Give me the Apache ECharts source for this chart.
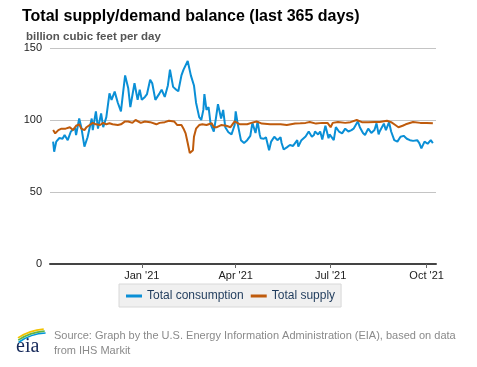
<!DOCTYPE html>
<html>
<head>
<meta charset="utf-8">
<script src="https://cdn.jsdelivr.net/npm/echarts@6/dist/echarts.min.js"></script>
<style>
html,body{margin:0;padding:0;background:#fff;}
#chart{width:477px;height:367px;}
</style>
</head>
<body>
<div id="chart"></div>
<script>
// x values are day offsets counted from the start date 2020-10-05
var axisEndDay = 370;
var tickLabels = ["Jan '21", "Apr '21", "Jul '21", "Oct '21"];
var tickDays = [88, 178, 269, 361]; // 2021-01-01, 2021-04-01, 2021-07-01, 2021-10-01
var yTicks = [0, 50, 100, 150];

var consDays = [3,4,6,9,12,14,17,20,24,25,28,30,33,36,40,41,44,46,49,51,54,57,59,62,65,68,70,72,75,77,81,84,86,88,91,93,96,98,101,105,107,110,113,115,118,121,123,126,128,132,135,138,140,143,145,147,148,150,152,154,157,159,161,164,166,168,171,174,177,178,180,183,186,189,192,194,197,199,201,202,205,207,210,212,215,218,221,222,224,227,230,233,237,238,241,245,246,248,251,253,254,257,259,261,264,267,268,272,274,277,280,283,286,289,291,295,297,300,302,305,308,311,313,315,316,320,322,325,327,330,333,336,339,342,345,348,352,354,356,359,362,365,367];
var consVals = [85,78,85,87.5,87,89.6,86,92,94.4,89.6,101,95,81.5,88,101,93,106,94,104.6,95,102,118.5,114,119.7,112,106,118.6,131,122,109,125.5,114,121,114,116,118,128,125.5,114,118.5,121,116,124,135,123,121,120,131,135,141,131,124,112,102,100,107,118,107,109,97,92,101,111,101,107,95,91.5,90,96.5,106,97,86,84,86,89,98,91,99,90,87.3,87,88,79,85,88.4,86,88,84,79.5,81,82.6,82,86,81.5,86,88.5,87.3,92,88.4,89.6,92,90,92,86.5,96,87.3,90,86,95,92,90.7,94,92,93,94,99,95,91,89.6,94,91,93,97.7,90,92,97.5,93,98.5,92,86,85,88.4,89,87,86,85.5,86,84,80.3,85,83.5,86,84];

var supDays = [3,5,8,11,15,19,22,25,28,30,33,35,38,41,44,48,51,54,57,60,65,68,72,75,79,82,87,91,96,102,105,110,114,119,122,126,128,130,132,134,135,137,138,140,143,146,150,155,157,160,164,169,173,177,182,189,193,198,203,211,221,227,235,240,245,249,255,261,266,269,271,276,283,288,294,299,305,311,316,323,327,331,334,338,341,348,355,361,367];
var supVals = [93,90.7,93,94,94,95,93,96,97,94,93,95,96.5,98,97,96.5,98,97,97.7,97,96.5,97,99,99,98,100,98,99,98.5,97,98,98.5,99.5,99,96.5,96.5,94,90.7,84,77,75.7,79,88.4,94,96.5,97,96.5,97.7,95,95,96.5,96,95,99,97,97,98,99,97.5,97,97,96.5,97.5,97.7,98,98.6,97.5,98,98,95,98,98.6,98,98.5,100,98.5,98.5,98.6,98.6,99.5,98.5,96.5,95,96,97,98.6,98,98,97.7];

function pairs(days, vals) {
  var out = [];
  for (var i = 0; i < days.length; i++) out.push([days[i], vals[i]]);
  return out;
}
var labelMap = {};
tickDays.forEach(function (t, i) { labelMap[t] = tickLabels[i]; });

var chart = echarts.init(document.getElementById('chart'), null, {renderer: 'canvas'});
var FONT = 'Liberation Sans, Arial, sans-serif';
chart.setOption({
  backgroundColor: '#ffffff',
  animation: false,
  textStyle: {fontFamily: FONT},
  title: [{
    text: 'Total supply/demand balance (last 365 days)',
    left: 17, top: 4,
    textStyle: {fontSize: 16, fontWeight: 'bold', color: '#000', fontFamily: FONT}
  }, {
    text: 'billion cubic feet per day',
    left: 21, top: 26,
    textStyle: {fontSize: 11.5, fontWeight: 'bold', color: '#555', fontFamily: FONT}
  }],
  grid: {left: 50, right: 41, top: 48, bottom: 103},
  legend: {
    left: 119, top: 284,
    backgroundColor: '#f0f0f0',
    borderColor: '#d8d8d8', borderWidth: 1,
    padding: [6, 6, 5, 7],
    itemGap: 7,
    icon: 'rect', itemWidth: 16, itemHeight: 3,
    textStyle: {fontSize: 12, color: '#1f3b5c', fontFamily: FONT},
    data: ['Total consumption', 'Total supply']
  },
  xAxis: {
    type: 'value',
    min: 0, max: axisEndDay,
    axisLine: {onZero: false, lineStyle: {color: '#444', width: 2}},
    axisTick: {show: true, customValues: tickDays, length: 4, lineStyle: {color: '#666'}},
    axisLabel: {
      customValues: tickDays,
      formatter: function (v) { return labelMap[v] || ''; },
      fontSize: 11, color: '#222', margin: 6, fontFamily: FONT
    },
    splitLine: {show: false}
  },
  yAxis: {
    type: 'value', min: 0, max: 150, interval: 50,
    axisLine: {show: false}, axisTick: {show: false},
    axisLabel: {fontSize: 11, color: '#222', margin: 8, fontFamily: FONT},
    splitLine: {lineStyle: {color: '#c4c4c4', width: 1}}
  },
  series: [{
    name: 'Total consumption', type: 'line', showSymbol: false,
    data: pairs(consDays, consVals),
    itemStyle: {color: '#0a8fd6'},
    lineStyle: {color: '#0a8fd6', width: 2}
  }, {
    name: 'Total supply', type: 'line', showSymbol: false,
    data: pairs(supDays, supVals),
    itemStyle: {color: '#bf5b0c'},
    lineStyle: {color: '#bf5b0c', width: 2}
  }],
  graphic: [{
    type: 'text', left: 54, top: 328,
    style: {
      text: 'Source: Graph by the U.S. Energy Information Administration (EIA), based on data\nfrom IHS Markit',
      font: '11px ' + FONT, fill: '#8a8a8a', lineHeight: 15
    }
  }, {
    type: 'text', left: 16, top: 337,
    style: {text: 'eia', font: '20px "Liberation Serif", "DejaVu Serif", serif', fill: '#16295a'}
  }, {
    type: 'arc', shape: {cx: 48, cy: 384, r: 55, startAngle: Math.PI * 1.316, endAngle: Math.PI * 1.475},
    style: {stroke: '#f2c200', lineWidth: 1.6, fill: null}
  }, {
    type: 'arc', shape: {cx: 48, cy: 384, r: 53, startAngle: Math.PI * 1.31, endAngle: Math.PI * 1.48},
    style: {stroke: '#5fb441', lineWidth: 1.6, fill: null}
  }, {
    type: 'arc', shape: {cx: 48, cy: 384, r: 51, startAngle: Math.PI * 1.305, endAngle: Math.PI * 1.485},
    style: {stroke: '#0096d7', lineWidth: 1.6, fill: null}
  }]
});
</script>
</body>
</html>
